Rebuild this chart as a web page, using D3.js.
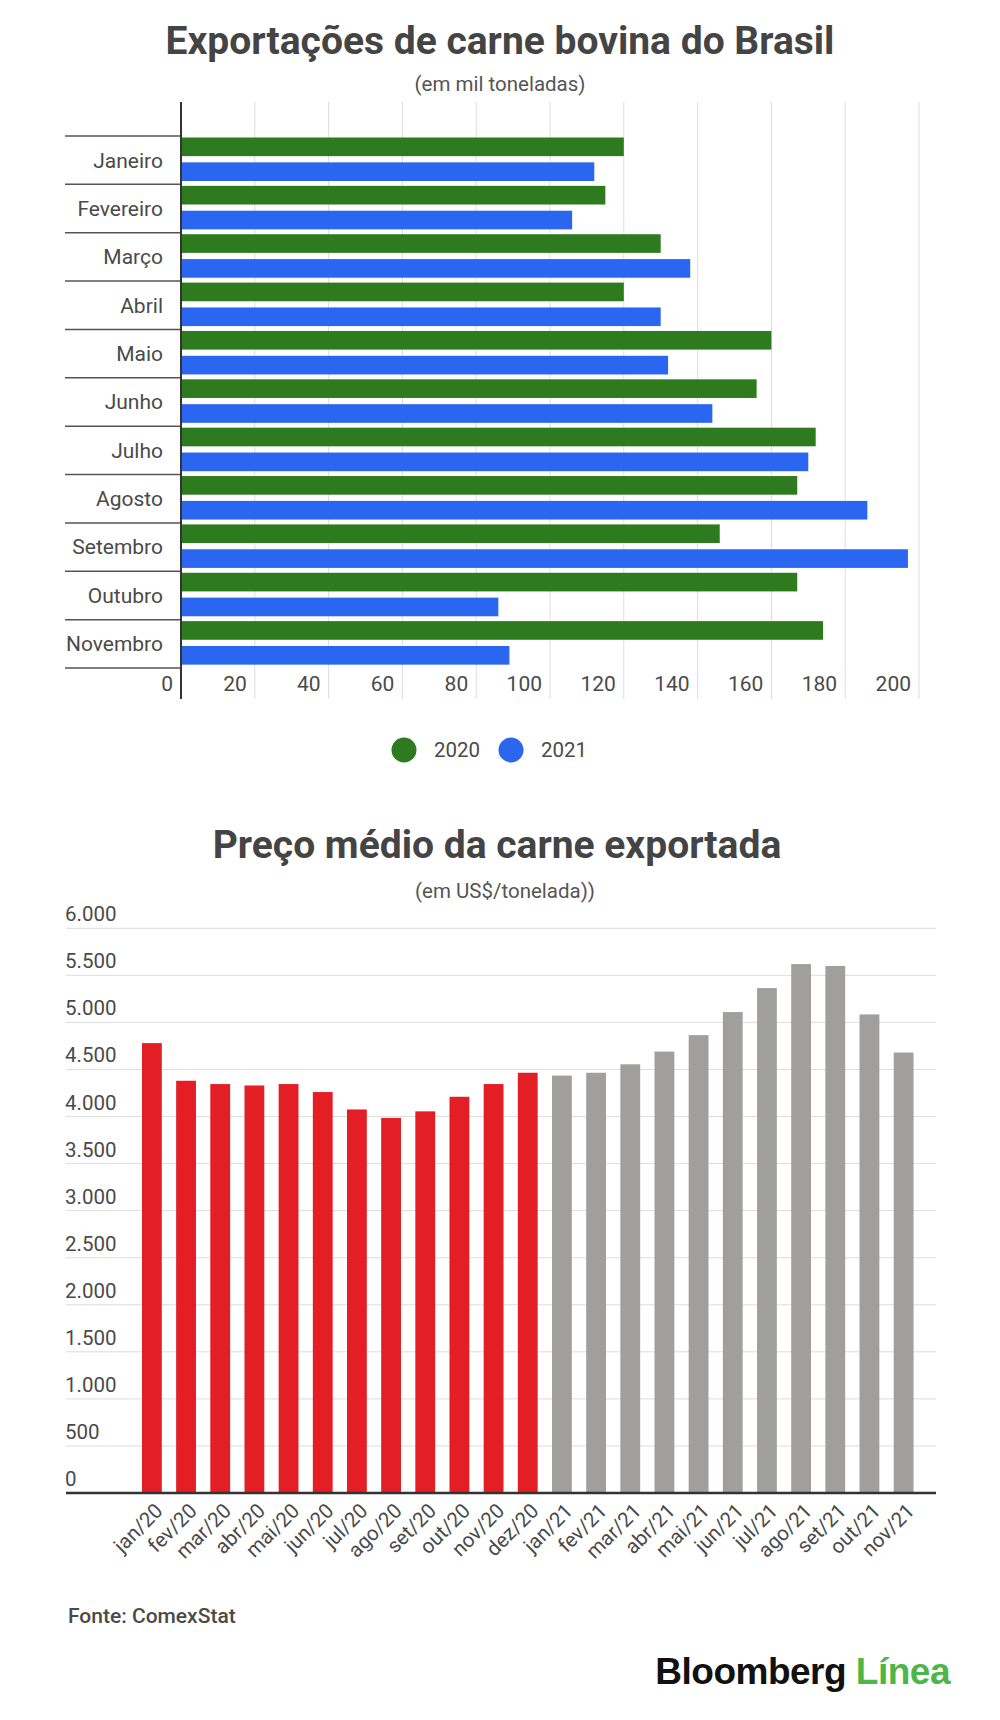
<!DOCTYPE html>
<html lang="pt">
<head>
    <meta charset="UTF-8">
    <title>Exportações de carne bovina do Brasil</title>
    <script src="https://d3js.org/d3.v7.min.js"></script>
    <style>
        body {
            margin: 0;
            padding: 0;
            background-color: #ffffff;
            font-family: Roboto, "Noto Sans", Arial, sans-serif;
        }
        svg text {
            font-family: Roboto, "Noto Sans", Arial, sans-serif;
        }
        .title {
            font-size: 39px;
            font-weight: 700;
            fill: #444444;
        }
        .subtitle {
            font-size: 20.5px;
            fill: #555555;
        }
        .grid line {
            stroke: #dddddd;
            stroke-width: 1;
        }
    </style>
</head>
<body>
    <svg id="chart" width="1000" height="1720"></svg>

    <script>
        // Exportações mensais (mil toneladas)
        const months = ["Janeiro", "Fevereiro", "Março", "Abril", "Maio", "Junho",
            "Julho", "Agosto", "Setembro", "Outubro", "Novembro"];
        const years = ["2020", "2021"];
        const exports2020 = [120, 115, 130, 120, 160, 156, 172, 167, 146, 167, 174];
        const exports2021 = [112, 106, 138, 130, 132, 144, 170, 186, 197, 86, 89];
        const exportTicks = [0, 20, 40, 60, 80, 100, 120, 140, 160, 180, 200];

        // Preço médio (US$/tonelada)
        const priceLabels = ["jan/20", "fev/20", "mar/20", "abr/20", "mai/20", "jun/20",
            "jul/20", "ago/20", "set/20", "out/20", "nov/20", "dez/20",
            "jan/21", "fev/21", "mar/21", "abr/21", "mai/21", "jun/21",
            "jul/21", "ago/21", "set/21", "out/21", "nov/21"];
        const priceValues = [4780, 4380, 4345, 4330, 4345, 4260, 4075, 3985, 4055, 4210, 4345, 4465,
            4435, 4465, 4555, 4690, 4865, 5110, 5365, 5620, 5600, 5085, 4680];
        const priceTicks = [0, 500, 1000, 1500, 2000, 2500, 3000, 3500, 4000, 4500, 5000, 5500, 6000];

        const colors = { "2020": "#2e7a1f", "2021": "#2a66f0" };
        const labelColor = "#4a4a4a";
        const svg = d3.select("#chart");

        // ---------- Chart 1: horizontal grouped bars ----------
        svg.append("text").attr("class", "title")
            .attr("x", 500).attr("y", 54).attr("text-anchor", "middle")
            .text("Exportações de carne bovina do Brasil");
        svg.append("text").attr("class", "subtitle")
            .attr("x", 500).attr("y", 91).attr("text-anchor", "middle")
            .text("(em mil toneladas)");

        const x1 = d3.scaleLinear().domain([0, 200]).range([181, 919]);
        const y1 = d3.scaleBand().domain(months).range([136, 668]);
        const ySub = d3.scaleBand().domain(years).range([1.5, 45]).paddingInner(0.25);

        // vertical gridlines
        svg.append("g").attr("class", "grid")
            .selectAll("line")
            .data(exportTicks.slice(1))
            .join("line")
            .attr("x1", d => x1(d)).attr("x2", d => x1(d))
            .attr("y1", 102).attr("y2", 699);

        const rows = months.map((m, i) => ({ month: m, values: [exports2020[i], exports2021[i]] }));

        const rowG = svg.append("g").selectAll("g")
            .data(rows)
            .join("g")
            .attr("transform", d => `translate(0,${y1(d.month)})`);

        rowG.selectAll("rect")
            .data(d => years.map((yr, j) => ({ year: yr, value: d.values[j] })))
            .join("rect")
            .attr("x", x1(0))
            .attr("y", d => ySub(d.year))
            .attr("width", d => x1(d.value) - x1(0))
            .attr("height", ySub.bandwidth())
            .attr("fill", d => colors[d.year]);

        // category separators
        const bounds = months.map(m => y1(m)).concat([y1.range()[1]]);
        svg.append("g").selectAll("line")
            .data(bounds)
            .join("line")
            .attr("x1", 65).attr("x2", x1(0))
            .attr("y1", d => d).attr("y2", d => d)
            .attr("stroke", "#555555").attr("stroke-width", 1.5);

        // month labels
        svg.append("g").selectAll("text")
            .data(months)
            .join("text")
            .attr("x", 163)
            .attr("y", d => y1(d) + y1.bandwidth() / 2)
            .attr("dy", "0.35em")
            .attr("text-anchor", "end")
            .style("font-size", "21px")
            .style("fill", labelColor)
            .text(d => d);

        // value axis labels
        svg.append("g").selectAll("text")
            .data(exportTicks)
            .join("text")
            .attr("x", d => x1(d) - 8)
            .attr("y", 691)
            .attr("text-anchor", "end")
            .style("font-size", "21px")
            .style("fill", labelColor)
            .text(d => d);

        // axis line
        svg.append("line")
            .attr("x1", x1(0)).attr("x2", x1(0))
            .attr("y1", 102).attr("y2", 699)
            .attr("stroke", "#333333").attr("stroke-width", 2);

        // legend
        const legend = svg.append("g").selectAll("g")
            .data(years)
            .join("g")
            .attr("transform", (d, i) => `translate(${404 + i * 107},750)`);
        legend.append("circle").attr("r", 12.5).attr("fill", d => colors[d]);
        legend.append("text")
            .attr("x", 30).attr("dy", "0.35em")
            .style("font-size", "20.5px")
            .style("fill", labelColor)
            .text(d => d);

        // ---------- Chart 2: vertical bars ----------
        svg.append("text").attr("class", "title")
            .attr("x", 497).attr("y", 858).attr("text-anchor", "middle")
            .text("Preço médio da carne exportada");
        svg.append("text").attr("class", "subtitle")
            .attr("x", 505).attr("y", 898).attr("text-anchor", "middle")
            .text("(em US$/tonelada))");

        const ptBR = d3.formatLocale({ decimal: ",", thousands: ".", grouping: [3], currency: ["", ""] });
        const fmt = ptBR.format(",d");

        const x2 = d3.scaleBand().domain(priceLabels).range([134.8, 920.7])
            .paddingInner(0.42).paddingOuter(0.21);
        const y2 = d3.scaleLinear().domain([0, 6000]).range([1493, 928.3]);

        svg.append("g").attr("class", "grid")
            .selectAll("line")
            .data(priceTicks.slice(1))
            .join("line")
            .attr("x1", 66).attr("x2", 936)
            .attr("y1", d => y2(d)).attr("y2", d => y2(d));

        svg.append("g").selectAll("text")
            .data(priceTicks)
            .join("text")
            .attr("x", 65)
            .attr("y", d => y2(d) - 7)
            .style("font-size", "20.5px")
            .style("fill", labelColor)
            .text(d => fmt(d));

        svg.append("g").selectAll("rect")
            .data(priceLabels.map((l, i) => ({ label: l, value: priceValues[i], idx: i })))
            .join("rect")
            .attr("x", d => x2(d.label))
            .attr("y", d => y2(d.value))
            .attr("width", x2.bandwidth())
            .attr("height", d => y2(0) - y2(d.value))
            .attr("fill", d => d.idx < 12 ? "#e31e24" : "#a19e9e");

        svg.append("line")
            .attr("x1", 66).attr("x2", 936)
            .attr("y1", y2(0)).attr("y2", y2(0))
            .attr("stroke", "#333333").attr("stroke-width", 2.5);

        svg.append("g").selectAll("text")
            .data(priceLabels)
            .join("text")
            .attr("transform", d => `translate(${x2(d) + x2.bandwidth() / 2 + 7},${y2(0) + 14}) rotate(-45)`)
            .attr("text-anchor", "end")
            .attr("dy", "0.35em")
            .style("font-size", "20.5px")
            .style("fill", labelColor)
            .text(d => d);

        // footer
        svg.append("text")
            .attr("x", 68).attr("y", 1623)
            .style("font-size", "21px")
            .style("font-weight", 500)
            .style("fill", labelColor)
            .text("Fonte: ComexStat");

        const brand = svg.append("text")
            .attr("x", 950).attr("y", 1684)
            .attr("text-anchor", "end")
            .style("font-family", "'Liberation Sans', Arial, sans-serif")
            .style("font-size", "37px")
            .style("font-weight", 700)
            .style("letter-spacing", "-0.5px");
        brand.append("tspan").attr("fill", "#111111").text("Bloomberg ");
        brand.append("tspan").attr("fill", "#4cb648").text("Línea");
    </script>
</body>
</html>
